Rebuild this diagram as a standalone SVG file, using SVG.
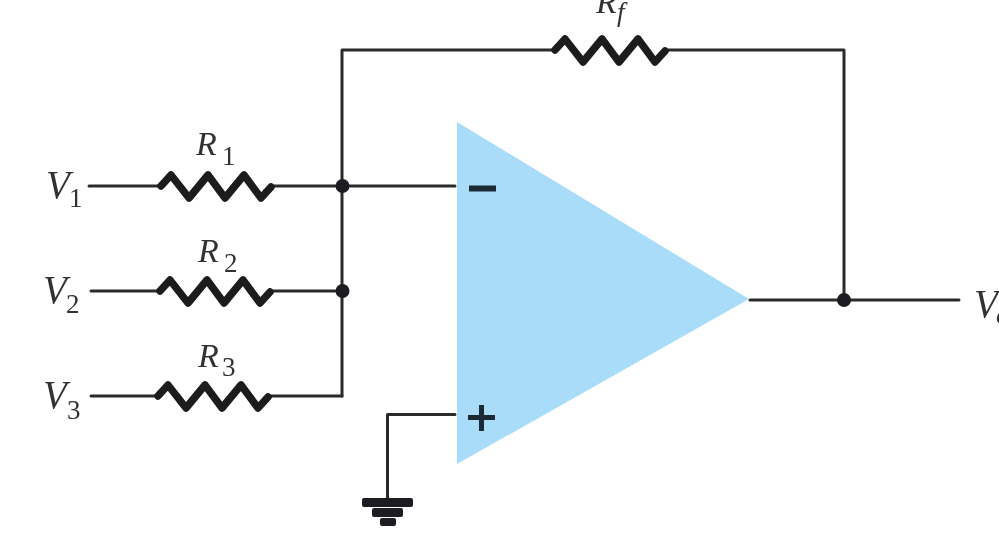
<svg xmlns="http://www.w3.org/2000/svg" width="999" height="559" viewBox="0 0 999 559">
<style>
.w{fill:none;stroke:#2b2b2b;stroke-width:3;stroke-linejoin:round;stroke-linecap:round}
.r{fill:none;stroke:#1a1a1a;stroke-width:7.500;stroke-linejoin:round;stroke-linecap:round}
.d{fill:#1e1e24}
.v{font-family:"Liberation Serif",serif;font-style:italic;fill:#333;font-size:39px}
.rn{font-family:"Liberation Serif",serif;font-style:italic;fill:#333;font-size:34px}
.s{font-family:"Liberation Serif",serif;fill:#333;font-size:27px}
.si{font-family:"Liberation Serif",serif;font-style:italic;fill:#333;font-size:27px}
.g{fill:#1c1c20}
</style>
<defs>
<path id="res" class="r" d="M0 0L10 -11L28 12L47 -11L64 12L83 -11L100 12L110 1"/>
<filter id="soft" x="0" y="0" width="1" height="1"><feGaussianBlur stdDeviation="0.700"/></filter>
</defs>
<rect width="999" height="559" fill="#fff"/>
<g filter="url(#soft)">
<g id="opamp">
<path d="M457 122L749 299L457 464Z" fill="#a9dcf9"/>
<rect x="469" y="185.500" width="27" height="6" fill="#1e2a36"/>
<path d="M468 417.500H495M481.500 405V431" fill="none" stroke="#1e2a36" stroke-width="5"/>
</g>
<g id="connectors">
<path class="w" d="M342 396V50H554"/>
<path class="w" d="M665 50H844V300"/>
<path class="w" d="M89 186H161"/>
<path class="w" d="M271 186H455"/>
<path class="w" d="M91 291H160"/>
<path class="w" d="M271 291H342"/>
<path class="w" d="M91 396H159"/>
<path class="w" d="M268 396H342"/>
<path class="w" d="M455 414.500H387.500V500"/>
<path class="w" d="M750 300H959"/>
<circle class="d" cx="342.500" cy="186" r="7"/>
<circle class="d" cx="342.500" cy="291" r="7"/>
<circle class="d" cx="844" cy="300" r="7"/>
</g>
<g id="r1"><use href="#res" x="161" y="186"/><text class="rn" x="196" y="155">R</text><text class="s" x="222" y="165">1</text></g>
<g id="r2"><use href="#res" x="160" y="291"/><text class="rn" x="198" y="262">R</text><text class="s" x="224" y="272">2</text></g>
<g id="r3"><use href="#res" x="158" y="396"/><text class="rn" x="198" y="367">R</text><text class="s" x="222" y="376">3</text></g>
<g id="rf"><use href="#res" x="555" y="50"/><text class="rn" x="596" y="13">R</text><text class="si" x="617" y="21">f</text></g>
<g id="v1"><text class="v" x="46" y="198">V</text><text class="s" x="69" y="207">1</text></g>
<g id="v2"><text class="v" x="43" y="303">V</text><text class="s" x="66" y="313">2</text></g>
<g id="v3"><text class="v" x="43" y="408">V</text><text class="s" x="67" y="419">3</text></g>
<g id="vo"><text class="v" x="974" y="317">V</text><text class="si" x="996" y="324">o</text></g>
<g id="ground">
<rect class="g" x="362" y="498" width="51" height="9" rx="2"/>
<rect class="g" x="372" y="508" width="31" height="9" rx="2"/>
<rect class="g" x="380" y="518" width="16" height="8" rx="2"/>
</g>
</g>
</svg>
